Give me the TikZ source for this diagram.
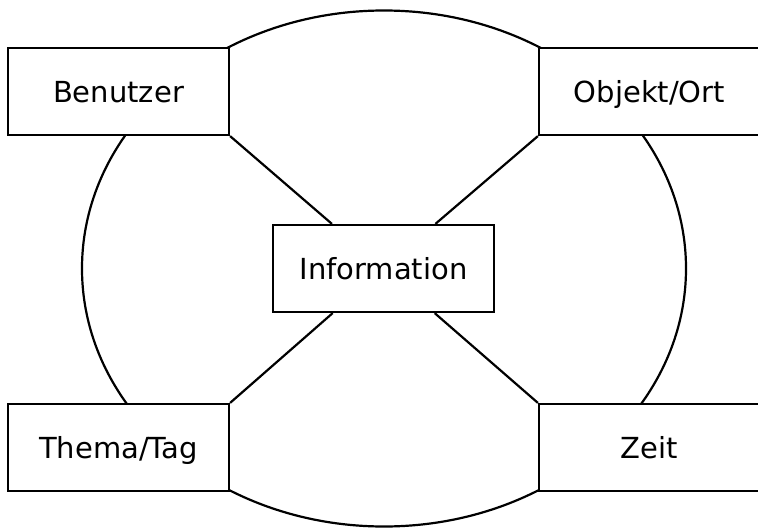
\documentclass[tikz,border=0pt]{standalone}
\usepackage{fontspec}
\setmainfont{DejaVu Sans}
\begin{document}
\begin{tikzpicture}[x=1pt,y=-1pt,
  box/.style={draw=black,fill=white,line width=2.2pt,inner sep=0pt,minimum width=221pt,minimum height=87pt,text height=22pt,text depth=0pt,font=\fontsize{29}{33}\selectfont},
  conn/.style={draw=black,line width=2.2pt}]
\useasboundingbox (0,0) rectangle (758,530);
\clip (0,0) rectangle (758,530);
\fill[white] (0,0) rectangle (758,530);
\coordinate (c) at (384,268.5);
\draw[line width=2.2pt] (c) ellipse [x radius=302, y radius=258];
\node[box] (info) at (383.5,268.5) {Information};
\node[box] (ben) at (118.5,91.5) {Benutzer};
\node[box] (obj) at (649.5,91.5) {Objekt/Ort};
\node[box] (thema) at (118.5,447.5) {Thema/Tag};
\node[box] (zeit) at (649.5,447.5) {Zeit};
\draw[conn] (ben.south east) -- (info);
\draw[conn] (obj.south west) -- (info);
\draw[conn] (thema.north east) -- (info);
\draw[conn] (zeit.north west) -- (info);
\end{tikzpicture}
\end{document}
